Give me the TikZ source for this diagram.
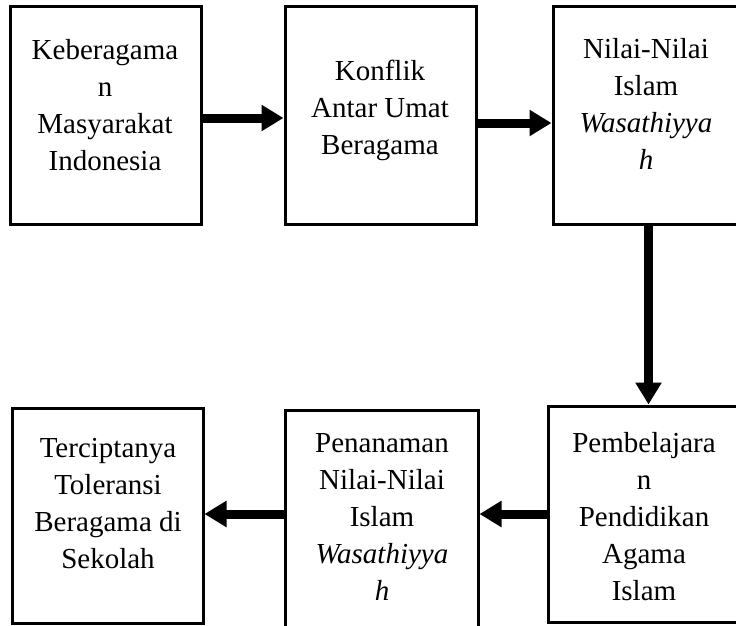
\documentclass[tikz,border=0pt]{standalone}
\usepackage{fontspec}
\setmainfont{Liberation Serif}
\usetikzlibrary{arrows.meta}
\tikzset{
  box/.style={draw=black, line width=3pt, rectangle, inner sep=0pt, fill=white},
  txt/.style={align=center, inner sep=0pt, font=\fontsize{29pt}{37pt}\selectfont},
  arr/.style={line width=9pt, -{Triangle[length=22pt,width=25pt]}}
}
\begin{document}
\begin{tikzpicture}[x=1pt,y=-1pt]
\useasboundingbox (0,0) rectangle (736,626);
\node[box, minimum width=191pt, minimum height=217pt] (b1) at (105.5,115.5) {};
\node[box, minimum width=191pt, minimum height=217pt] (b2) at (380.5,115.5) {};
\node[box, minimum width=191pt, minimum height=217pt] (b3) at (648.5,115.5) {};
\node[box, minimum width=191pt, minimum height=215pt] (b4) at (107.5,515.5) {};
\node[box, minimum width=193pt, minimum height=220pt] (b5) at (381.5,520) {};
\node[box, minimum width=201pt, minimum height=216pt] (b6) at (648.5,514) {};
\node[txt] (t1) at (105,105) {Keberagama\\n\\Masyarakat\\Indonesia};
\node[txt] (t2) at (380,110) {Konflik\\Antar Umat\\Beragama};
\node[txt] (t3) at (646,104) {Nilai-Nilai\\Islam\\\textit{Wasathiyya}\\\textit{h}};
\node[txt] (t4) at (108,504) {Terciptanya\\Toleransi\\Beragama di\\Sekolah};
\node[txt] (t5) at (382,517) {Penanaman\\Nilai-Nilai\\Islam\\\textit{Wasathiyya}\\\textit{h}};
\node[txt] (t6) at (644,517) {Pembelajara\\n\\Pendidikan\\Agama\\Islam};
\draw[arr] ([yshift=-2.5pt]b1.east) -- ([yshift=-2.5pt]b1.east -| b2.west);
\draw[arr] ([yshift=-7.5pt]b2.east) -- ([yshift=-7.5pt]b2.east -| b3.west);
\draw[arr] (b3.south) -- (b6.north);
\draw[arr] (b6.west) -- (b6.west -| b5.east);
\draw[arr] ([yshift=6pt]b5.west) -- ([yshift=6pt]b5.west -| b4.east);
\end{tikzpicture}
\end{document}
